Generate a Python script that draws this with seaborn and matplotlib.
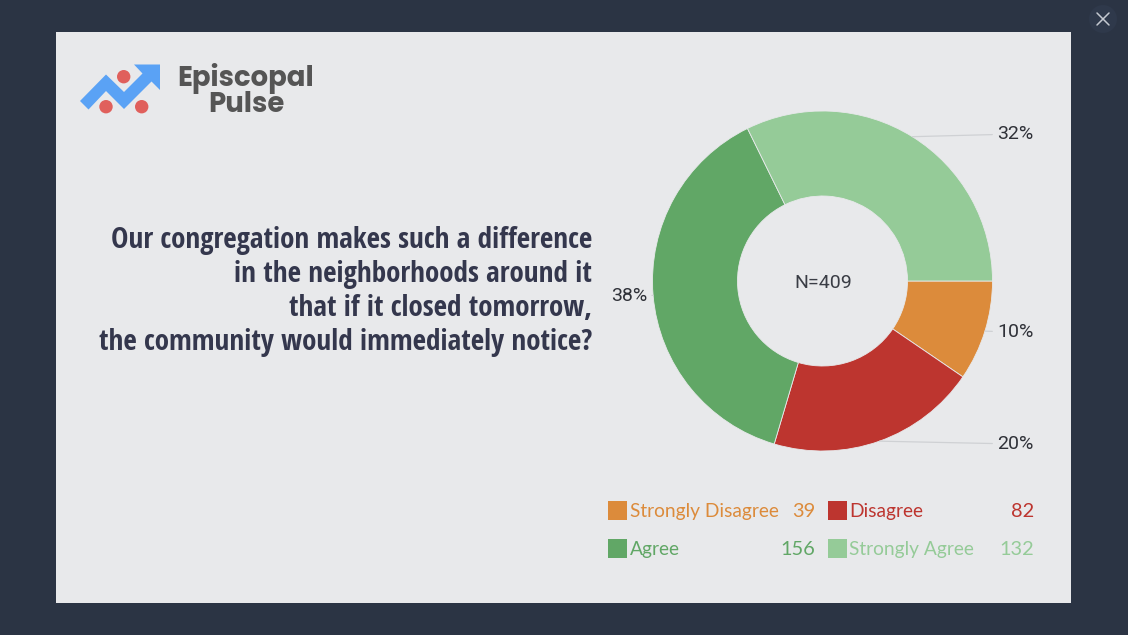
import matplotlib
matplotlib.use("Agg")
import matplotlib.pyplot as plt
from matplotlib.patches import Circle, Polygon, Rectangle
import seaborn as sns
import numpy as np

categories = ["Strongly Disagree", "Disagree", "Agree", "Strongly Agree"]
counts = [39, 82, 156, 132]
percent_labels = ["10%", "20%", "38%", "32%"]
slice_colors = ["#dc8b3b", "#bd352f", "#61a766", "#95cb98"]
question = [
    "Our congregation makes such a difference",
    "in the neighborhoods around it",
    "that if it closed tomorrow,",
    "the community would immediately notice?",
]

sns.set_theme(style="white")
palette = sns.color_palette(slice_colors)

W, H = 1128, 635
PANEL = "#e8e9eb"
DARK = "#2b3444"

fig = plt.figure(figsize=(W / 100, H / 100), dpi=100, facecolor=DARK)

# calque en pixels pour le panneau et les textes
bg = fig.add_axes([0, 0, 1, 1])
bg.set_xlim(0, W)
bg.set_ylim(H, 0)
bg.axis("off")
bg.add_patch(Rectangle((56, 32), 1015, 571, fc=PANEL, ec="none"))

# bouton fermer
bg.add_patch(Circle((1103, 19), 14, fc="#2f394b", ec="none"))
bg.plot([1097, 1109], [13, 25], color="#c5c9d0", lw=1.1)
bg.plot([1097, 1109], [25, 13], color="#c5c9d0", lw=1.1)

# logo
arrow = [(80, 101), (106, 74.5), (124, 92), (142.5, 73.5), (134, 64.5), (160, 64.5),
         (160, 90), (151.5, 81.5), (124, 109), (106, 91), (88.5, 109.5)]
bg.add_patch(Polygon(arrow, closed=True, fc="#5aa2f5", ec="none"))
for cx, cy in [(123.7, 76.7), (106, 106.7), (141.7, 106.7)]:
    bg.add_patch(Circle((cx, cy), 6.7, fc="#e0605c", ec="none"))
bg.text(246, 86, "Episcopal", family=["Poppins", "Open Sans"], weight="bold", fontsize=19.8,
        color="#555555", ha="center", va="baseline")
bg.text(246, 112, "Pulse", family=["Poppins", "Open Sans"], weight="bold", fontsize=19.8,
        color="#555555", ha="center", va="baseline")

# question
title_y = [248, 282, 316, 350]
for line, y in zip(question, title_y):
    bg.text(592, y, line, family=["Open Sans Condensed", "Open Sans"], weight="bold",
            stretch="condensed", fontsize=21, color="#34374d", ha="right", va="baseline")

# donut
ax = fig.add_axes([652.5 / W, 1 - 451 / H, 340 / W, 340 / H])
ax.patch.set_alpha(0)
wedges, _ = ax.pie(counts, colors=palette, startangle=0, counterclock=False, radius=1,
                   wedgeprops=dict(width=0.5, edgecolor=PANEL, linewidth=0.6))
ax.set_xlim(-1, 1)
ax.set_ylim(-1, 1)

label_pos = [(997, 332), (997, 444), (611, 296), (997, 134)]
for w, lab, (lx, ly) in zip(wedges, percent_labels, label_pos):
    mid = np.deg2rad((w.theta1 + w.theta2) / 2)
    ax.annotate(lab, xy=(np.cos(mid), np.sin(mid)), xycoords="data",
                xytext=(lx, ly), textcoords=bg.transData,
                family="Roboto", fontsize=14, color="#2f3138", ha="left", va="center",
                annotation_clip=False,
                arrowprops=dict(arrowstyle="-", color="#cfd1d4", lw=0.9,
                                shrinkA=1, shrinkB=0))

bg.text(823, 283, "N=409", family="Roboto", fontsize=14, color="#3a3d45",
        ha="center", va="center")

# legende
legend_x = [608, 828]
legend_text_gap = [22, 21]
legend_value_x = [815, 1034]
legend_y = [517, 555]
for i, (cat, n, col) in enumerate(zip(categories, counts, slice_colors)):
    row, c = i // 2, i % 2
    bg.add_patch(Rectangle((legend_x[c], legend_y[row] - 16), 19, 19, fc=col, ec="none"))
    bg.text(legend_x[c] + legend_text_gap[c], legend_y[row], cat, family="Lato", fontsize=13.8,
            color=col, ha="left", va="baseline")
    bg.text(legend_value_x[c], legend_y[row], str(n), family="Lato", fontsize=14.4,
            color=col, ha="right", va="baseline")

fig.savefig("out.png", dpi=100, facecolor=fig.get_facecolor())
plt.close()
